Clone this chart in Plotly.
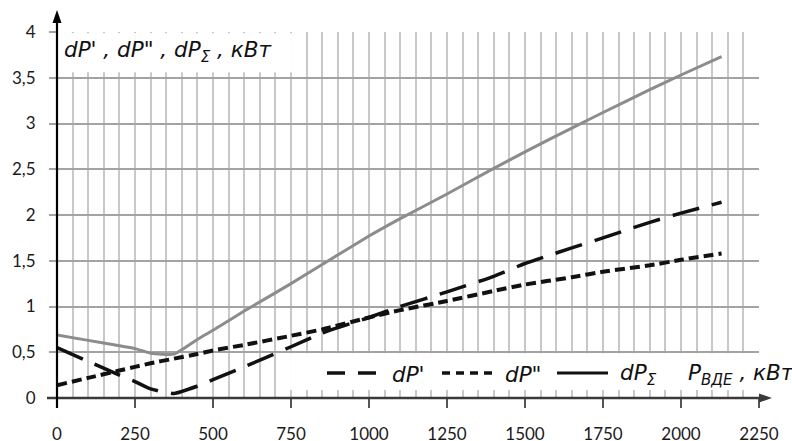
import plotly.graph_objects as go

# ---- data ----
p_vde = [0, 100, 200, 250, 300, 375, 450, 500, 600, 750, 850, 1000,
         1100, 1250, 1400, 1500, 1650, 1750, 1900, 2000, 2130]
dp_1 = [0.55, 0.40, 0.25, 0.18, 0.10, 0.05, 0.13, 0.20, 0.34, 0.56, 0.71, 0.88,
        1.00, 1.16, 1.33, 1.47, 1.64, 1.75, 1.92, 2.02, 2.14]
dp_2 = [0.14, 0.22, 0.30, 0.34, 0.38, 0.43, 0.48, 0.52, 0.58, 0.68, 0.75, 0.88,
        0.96, 1.06, 1.17, 1.24, 1.32, 1.38, 1.45, 1.51, 1.58]
dp_sum = [0.69, 0.63, 0.57, 0.54, 0.49, 0.48, 0.64, 0.74, 0.95, 1.25, 1.46, 1.77,
          1.96, 2.23, 2.51, 2.69, 2.95, 3.12, 3.37, 3.53, 3.73]

x_tick_vals = [0, 250, 500, 750, 1000, 1250, 1500, 1750, 2000, 2250]
x_tick_text = ["0", "250", "500", "750", "1000", "1250", "1500", "1750", "2000", "2250"]
y_tick_vals = [0, 0.5, 1, 1.5, 2, 2.5, 3, 3.5, 4]
y_tick_text = ["0", "0,5", "1", "1,5", "2", "2,5", "3", "3,5", "4"]

y_title = "<i>dP' , dP\" , dP<sub>Σ</sub> , кВт</i>"
legend_names = ["<i>dP'</i>", "<i>dP\"</i>", "<i>dP<sub>Σ</sub></i>"]
x_title = "<i>P<sub>ВДЕ</sub> , кВт</i>"

W, H = 792, 441
L, R, T, B = 57, 33, 32, 43
PW, PH = W - L - R, H - T - B


def px(xp):
    return (xp - L) / PW


def py(yp):
    return (H - B - yp) / PH


fig = go.Figure()
fig.add_trace(go.Scatter(x=p_vde, y=dp_sum, mode="lines", name="dPΣ",
                         line=dict(color="#8c8c8c", width=3, shape="spline", smoothing=0.5)))
fig.add_trace(go.Scatter(x=p_vde, y=dp_1, mode="lines", name="dP'",
                         line=dict(color="#111111", width=3.5, dash="28px,13px",
                                   shape="spline", smoothing=0.5)))
fig.add_trace(go.Scatter(x=p_vde, y=dp_2, mode="lines", name="dP\"",
                         line=dict(color="#111111", width=4, dash="10px,5px",
                                   shape="spline", smoothing=0.5)))

shapes = []
# white box behind the y-axis title
shapes.append(dict(type="rect", xref="x", yref="y", x0=0, x1=753, y0=3.56, y1=3.985,
                   fillcolor="white", line=dict(width=0), layer="between"))
# white box behind the legend row
shapes.append(dict(type="rect", xref="x", yref="y", x0=747, x1=2250, y0=0.087, y1=0.49,
                   fillcolor="white", line=dict(width=0), layer="between"))
# legend samples
ly = py(373)
shapes.append(dict(type="line", xref="paper", yref="paper", x0=px(327), x1=px(376), y0=ly, y1=ly,
                   line=dict(color="#111111", width=3.5, dash="18px,13px")))
shapes.append(dict(type="line", xref="paper", yref="paper", x0=px(442), x1=px(493), y0=ly, y1=ly,
                   line=dict(color="#111111", width=3.5, dash="8px,6px")))
shapes.append(dict(type="line", xref="paper", yref="paper", x0=px(557), x1=px(608), y0=ly, y1=ly,
                   line=dict(color="#111111", width=3)))

# axes with arrowheads
shapes.append(dict(type="line", xref="paper", yref="paper", x0=px(47), x1=px(762), y0=0, y1=0,
                   line=dict(color="#3a3a3a", width=2.4)))
shapes.append(dict(type="path", xref="paper", yref="paper",
                   path=f"M{px(772)},{py(398)} L{px(759)},{py(393.5)} L{px(759)},{py(402.5)} Z",
                   fillcolor="#3a3a3a", line=dict(width=0)))
shapes.append(dict(type="line", xref="paper", yref="paper", x0=0, x1=0, y0=py(408), y1=py(22),
                   line=dict(color="#000000", width=2.2)))
shapes.append(dict(type="path", xref="paper", yref="paper",
                   path=f"M{px(57)},{py(10)} L{px(52.5)},{py(23)} L{px(61.5)},{py(23)} Z",
                   fillcolor="#000000", line=dict(width=0)))

tfont = dict(family="DejaVu Sans, sans-serif", size=21.5, color="#111111")
annotations = []
annotations.append(dict(xref="paper", yref="paper", x=px(62), y=py(52), text=y_title,
                        showarrow=False, xanchor="left", yanchor="middle", font=tfont))
tly = py(374)
for xl, t in zip([390, 503, 618], legend_names):
    annotations.append(dict(xref="paper", yref="paper", x=px(xl), y=tly, text=t,
                            showarrow=False, xanchor="left", yanchor="middle", font=tfont))
annotations.append(dict(xref="paper", yref="paper", x=px(686), y=tly, text=x_title,
                        showarrow=False, xanchor="left", yanchor="middle", font=tfont))

tickfont = dict(family="Lato, sans-serif", size=17, color="#1a1a1a")
fig.update_layout(
    width=W, height=H, autosize=False,
    margin=dict(l=L, r=R, t=T, b=B, pad=0),
    paper_bgcolor="white", plot_bgcolor="white",
    showlegend=False,
    shapes=shapes, annotations=annotations,
    xaxis=dict(range=[0, 2250], tickmode="array", tickvals=x_tick_vals, ticktext=x_tick_text,
               showgrid=True, gridcolor="#c8c8c8", gridwidth=2,
               minor=dict(dtick=50, tick0=0, showgrid=True, gridcolor="#c8c8c8", gridwidth=2,
                          ticks=""),
               ticks="outside", ticklen=9, tickwidth=1.5, tickcolor="#555555",
               ticklabelstandoff=12, zeroline=False, showline=False, tickfont=tickfont,
               automargin=False),
    yaxis=dict(range=[0, 4], tickmode="array", tickvals=y_tick_vals, ticktext=y_tick_text,
               showgrid=True, gridcolor="#a3a3a3", gridwidth=1.5,
               ticks="outside", ticklen=7, tickwidth=1.5, tickcolor="#a3a3a3",
               ticklabelstandoff=10, zeroline=False, showline=False, tickfont=tickfont,
               automargin=False),
)

fig.write_html("out.html", config={"displayModeBar": False},
               post_script="document.body.style.margin='0';document.body.style.padding='0';")
